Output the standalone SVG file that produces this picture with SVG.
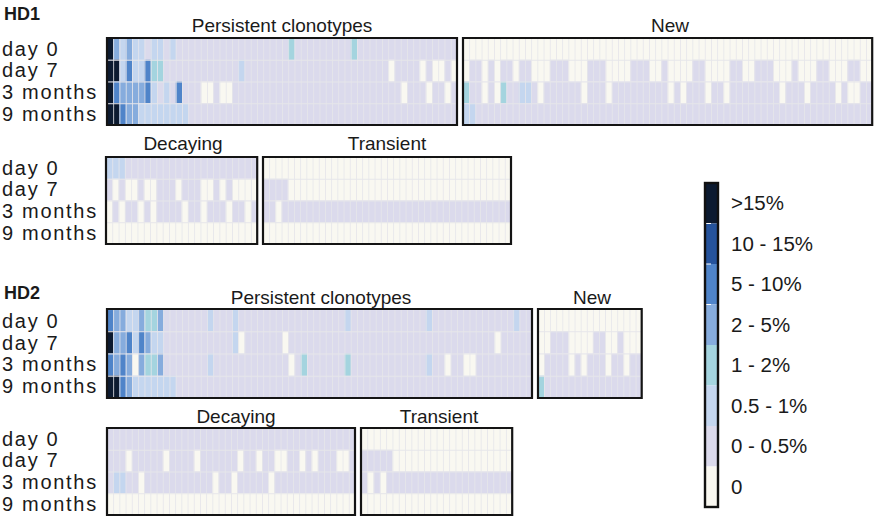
<svg xmlns="http://www.w3.org/2000/svg" width="874" height="516" viewBox="0 0 874 516">
<style>
.c0{fill:#f9f8f1}.c1{fill:#dbdaec}.c2{fill:#c4d6ef}.c3{fill:#a4d4df}.c4{fill:#86acdd}.c5{fill:#4f84c9}.c6{fill:#25539c}.c7{fill:#0c1a30}
.box{fill:none;stroke:#141414;stroke-width:2.2;vector-effect:non-scaling-stroke}
.gr{fill:url(#grid)}
text{font-family:"Liberation Sans",Arial,sans-serif;fill:#1a1a1a}
.ttl{font-size:19px;text-anchor:middle}
.lab{font-size:20px;letter-spacing:1.7px}
.hd{font-size:18px;font-weight:bold}
.leg{font-size:20.5px}
</style>
<defs>
<pattern id="grid" width="1" height="1" patternUnits="userSpaceOnUse">
<rect width="0.13" height="1" fill="#e6e6ea"/>
<rect width="1" height="0.045" fill="#e6e6ea"/>
</pattern>
</defs>
<rect width="874" height="516" fill="#ffffff"/>

<g id="labels-hd1">
<text class="hd" x="4" y="20">HD1</text>
<text class="ttl" x="282" y="32">Persistent clonotypes</text>
<text class="ttl" x="670" y="32">New</text>
<text class="lab" x="2" y="56">day 0</text>
<text class="lab" x="2" y="77">day 7</text>
<text class="lab" x="2" y="99">3 months</text>
<text class="lab" x="2" y="121">9 months</text>
<text class="ttl" x="183" y="150">Decaying</text>
<text class="ttl" x="387" y="150">Transient</text>
<text class="lab" x="2" y="175">day 0</text>
<text class="lab" x="2" y="196">day 7</text>
<text class="lab" x="2" y="218">3 months</text>
<text class="lab" x="2" y="240">9 months</text>
</g>

<g id="hd1-persistent" transform="translate(107 38) scale(6.25 21.75)">
<rect class="c1" width="56" height="4"/>
<rect class="c7" x="0" y="0" width="1" height="1"/><rect class="c4" x="1" y="0" width="1" height="1"/><rect class="c2" x="2" y="0" width="1" height="1"/><rect class="c4" x="3" y="0" width="1" height="1"/><rect class="c2" x="4" y="0" width="2" height="1"/><rect class="c2" x="7" y="0" width="2" height="1"/><rect class="c2" x="10" y="0" width="1" height="1"/><rect class="c3" x="29" y="0" width="1" height="1"/><rect class="c3" x="39" y="0" width="1" height="1"/>
<rect class="c7" x="0" y="1" width="2" height="1"/><rect class="c2" x="2" y="1" width="1" height="1"/><rect class="c5" x="3" y="1" width="1" height="1"/><rect class="c2" x="4" y="1" width="2" height="1"/><rect class="c5" x="6" y="1" width="1" height="1"/><rect class="c3" x="7" y="1" width="2" height="1"/><rect class="c2" x="21" y="1" width="1" height="1"/><rect class="c0" x="45" y="1" width="1" height="1"/><rect class="c0" x="50" y="1" width="1" height="1"/><rect class="c0" x="52" y="1" width="2" height="1"/><rect class="c0" x="55" y="1" width="1" height="1"/>
<rect class="c7" x="0" y="2" width="1" height="1"/><rect class="c5" x="1" y="2" width="1" height="1"/><rect class="c4" x="2" y="2" width="4" height="1"/><rect class="c5" x="6" y="2" width="1" height="1"/><rect class="c2" x="7" y="2" width="1" height="1"/><rect class="c2" x="9" y="2" width="1" height="1"/><rect class="c5" x="11" y="2" width="1" height="1"/><rect class="c0" x="15" y="2" width="2" height="1"/><rect class="c0" x="18" y="2" width="2" height="1"/><rect class="c0" x="47" y="2" width="1" height="1"/><rect class="c0" x="51" y="2" width="1" height="1"/><rect class="c0" x="54" y="2" width="1" height="1"/>
<rect class="c7" x="0" y="3" width="2" height="1"/><rect class="c5" x="2" y="3" width="1" height="1"/><rect class="c4" x="3" y="3" width="2" height="1"/><rect class="c2" x="5" y="3" width="8" height="1"/>
<rect class="gr" width="56" height="4"/>
<rect class="box" width="56" height="4"/>
</g>

<g id="hd1-new" transform="translate(463 38) scale(6.2 21.75)">
<rect class="c0" width="66" height="2"/>
<rect class="c1" x="0" y="2" width="66" height="2"/>
<rect class="c1" x="1" y="1" width="2" height="1"/><rect class="c1" x="4" y="1" width="1" height="1"/><rect class="c1" x="6" y="1" width="2" height="1"/><rect class="c1" x="9" y="1" width="2" height="1"/><rect class="c1" x="14" y="1" width="3" height="1"/><rect class="c1" x="20" y="1" width="3" height="1"/><rect class="c1" x="27" y="1" width="3" height="1"/><rect class="c1" x="32" y="1" width="1" height="1"/><rect class="c1" x="37" y="1" width="2" height="1"/><rect class="c1" x="43" y="1" width="2" height="1"/><rect class="c1" x="47" y="1" width="3" height="1"/><rect class="c1" x="53" y="1" width="1" height="1"/><rect class="c1" x="57" y="1" width="2" height="1"/><rect class="c1" x="62" y="1" width="2" height="1"/>
<rect class="c3" x="0" y="2" width="1" height="1"/><rect class="c0" x="3" y="2" width="1" height="1"/><rect class="c0" x="5" y="2" width="1" height="1"/><rect class="c3" x="6" y="2" width="1" height="1"/><rect class="c2" x="9" y="2" width="2" height="1"/><rect class="c0" x="12" y="2" width="1" height="1"/><rect class="c0" x="19" y="2" width="1" height="1"/><rect class="c0" x="23" y="2" width="1" height="1"/><rect class="c0" x="33" y="2" width="1" height="1"/><rect class="c0" x="35" y="2" width="1" height="1"/><rect class="c0" x="39" y="2" width="1" height="1"/><rect class="c0" x="42" y="2" width="1" height="1"/><rect class="c0" x="51" y="2" width="1" height="1"/><rect class="c0" x="55" y="2" width="1" height="1"/><rect class="c0" x="60" y="2" width="1" height="1"/><rect class="c0" x="62" y="2" width="2" height="1"/>
<rect class="c2" x="0" y="3" width="2" height="1"/>
<rect class="gr" width="66" height="4"/>
<rect class="box" width="66" height="4"/>
</g>

<g id="hd1-decaying" transform="translate(106 157) scale(6.3 21.75)">
<rect class="c1" width="24" height="3"/>
<rect class="c0" x="0" y="3" width="24" height="1"/>
<rect class="c2" x="0" y="0" width="3" height="1"/>
<rect class="c0" x="1" y="1" width="1" height="1"/><rect class="c0" x="3" y="1" width="2" height="1"/><rect class="c0" x="6" y="1" width="2" height="1"/><rect class="c0" x="11" y="1" width="1" height="1"/><rect class="c0" x="15" y="1" width="2" height="1"/><rect class="c0" x="18" y="1" width="1" height="1"/><rect class="c0" x="20" y="1" width="4" height="1"/>
<rect class="c0" x="0" y="2" width="1" height="1"/><rect class="c0" x="2" y="2" width="1" height="1"/><rect class="c0" x="5" y="2" width="1" height="1"/><rect class="c0" x="7" y="2" width="1" height="1"/><rect class="c0" x="12" y="2" width="1" height="1"/><rect class="c0" x="15" y="2" width="1" height="1"/><rect class="c0" x="19" y="2" width="1" height="1"/><rect class="c0" x="22" y="2" width="1" height="1"/>
<rect class="gr" width="24" height="4"/>
<rect class="box" width="24" height="4"/>
</g>

<g id="hd1-transient" transform="translate(263 157) scale(6.2 21.75)">
<rect class="c0" width="40" height="4"/>
<rect class="c1" x="0" y="1" width="4" height="1"/>
<rect class="c1" x="0" y="2" width="40" height="1"/>
<rect class="c0" x="2" y="2" width="1" height="1"/>
<rect class="gr" width="40" height="4"/>
<rect class="box" width="40" height="4"/>
</g>

<g id="labels-hd2">
<text class="hd" x="4" y="299">HD2</text>
<text class="ttl" x="321" y="304">Persistent clonotypes</text>
<text class="ttl" x="592" y="304">New</text>
<text class="lab" x="2" y="328">day 0</text>
<text class="lab" x="2" y="350">day 7</text>
<text class="lab" x="2" y="371">3 months</text>
<text class="lab" x="2" y="393">9 months</text>
<text class="ttl" x="236" y="423">Decaying</text>
<text class="ttl" x="439" y="423">Transient</text>
<text class="lab" x="2" y="446">day 0</text>
<text class="lab" x="2" y="467">day 7</text>
<text class="lab" x="2" y="489">3 months</text>
<text class="lab" x="2" y="511">9 months</text>
</g>

<g id="hd2-persistent" transform="translate(107 309) scale(6.25 22.25)">
<rect class="c1" width="68" height="4"/>
<rect class="c5" x="0" y="0" width="1" height="1"/><rect class="c4" x="1" y="0" width="2" height="1"/><rect class="c2" x="3" y="0" width="2" height="1"/><rect class="c4" x="5" y="0" width="1" height="1"/><rect class="c3" x="6" y="0" width="2" height="1"/><rect class="c4" x="8" y="0" width="1" height="1"/><rect class="c2" x="16" y="0" width="1" height="1"/><rect class="c2" x="20" y="0" width="1" height="1"/><rect class="c2" x="38" y="0" width="1" height="1"/><rect class="c2" x="51" y="0" width="1" height="1"/><rect class="c2" x="65" y="0" width="1" height="1"/>
<rect class="c7" x="0" y="1" width="1" height="1"/><rect class="c4" x="1" y="1" width="2" height="1"/><rect class="c5" x="3" y="1" width="1" height="1"/><rect class="c2" x="4" y="1" width="1" height="1"/><rect class="c5" x="5" y="1" width="1" height="1"/><rect class="c4" x="6" y="1" width="1" height="1"/><rect class="c2" x="7" y="1" width="2" height="1"/><rect class="c2" x="20" y="1" width="1" height="1"/><rect class="c0" x="21" y="1" width="1" height="1"/><rect class="c0" x="28" y="1" width="1" height="1"/><rect class="c0" x="62" y="1" width="1" height="1"/>
<rect class="c5" x="0" y="2" width="1" height="1"/><rect class="c4" x="1" y="2" width="1" height="1"/><rect class="c5" x="2" y="2" width="1" height="1"/><rect class="c4" x="3" y="2" width="1" height="1"/><rect class="c0" x="4" y="2" width="1" height="1"/><rect class="c4" x="5" y="2" width="1" height="1"/><rect class="c3" x="6" y="2" width="2" height="1"/><rect class="c4" x="8" y="2" width="1" height="1"/><rect class="c2" x="16" y="2" width="1" height="1"/><rect class="c0" x="29" y="2" width="1" height="1"/><rect class="c3" x="31" y="2" width="1" height="1"/><rect class="c3" x="38" y="2" width="1" height="1"/><rect class="c2" x="51" y="2" width="1" height="1"/><rect class="c0" x="54" y="2" width="1" height="1"/><rect class="c0" x="57" y="2" width="2" height="1"/>
<rect class="c7" x="0" y="3" width="2" height="1"/><rect class="c5" x="2" y="3" width="1" height="1"/><rect class="c4" x="3" y="3" width="1" height="1"/><rect class="c2" x="4" y="3" width="7" height="1"/>
<rect class="gr" width="68" height="4"/>
<rect class="box" width="68" height="4"/>
</g>

<g id="hd2-new" transform="translate(538 309) scale(6.1 22.25)">
<rect class="c0" width="17" height="2"/>
<rect class="c1" x="0" y="2" width="17" height="2"/>
<rect class="c1" x="2" y="1" width="3" height="1"/><rect class="c1" x="9" y="1" width="2" height="1"/><rect class="c1" x="13" y="1" width="1" height="1"/>
<rect class="c0" x="0" y="2" width="1" height="1"/><rect class="c0" x="5" y="2" width="1" height="1"/><rect class="c0" x="7" y="2" width="1" height="1"/><rect class="c0" x="11" y="2" width="1" height="1"/><rect class="c0" x="14" y="2" width="1" height="1"/>
<rect class="c3" x="0" y="3" width="1" height="1"/>
<rect class="gr" width="17" height="4"/>
<rect class="box" width="17" height="4"/>
</g>

<g id="hd2-decaying" transform="translate(107 428) scale(6.2 21.75)">
<rect class="c1" width="40" height="3"/>
<rect class="c0" x="0" y="3" width="40" height="1"/>
<rect class="c0" x="3" y="1" width="1" height="1"/><rect class="c0" x="9" y="1" width="1" height="1"/><rect class="c0" x="14" y="1" width="1" height="1"/><rect class="c0" x="21" y="1" width="1" height="1"/><rect class="c0" x="24" y="1" width="1" height="1"/><rect class="c0" x="27" y="1" width="2" height="1"/><rect class="c0" x="31" y="1" width="1" height="1"/><rect class="c0" x="33" y="1" width="1" height="1"/><rect class="c0" x="37" y="1" width="2" height="1"/>
<rect class="c2" x="1" y="2" width="2" height="1"/><rect class="c0" x="5" y="2" width="1" height="1"/><rect class="c0" x="17" y="2" width="1" height="1"/><rect class="c0" x="20" y="2" width="1" height="1"/><rect class="c0" x="26" y="2" width="1" height="1"/>
<rect class="gr" width="40" height="4"/>
<rect class="box" width="40" height="4"/>
</g>

<g id="hd2-transient" transform="translate(361 428) scale(6.3 21.75)">
<rect class="c0" width="24" height="4"/>
<rect class="c1" x="0" y="1" width="5" height="1"/>
<rect class="c1" x="0" y="2" width="24" height="1"/>
<rect class="c0" x="1" y="2" width="1" height="1"/><rect class="c0" x="3" y="2" width="1" height="1"/>
<rect class="gr" width="24" height="4"/>
<rect class="box" width="24" height="4"/>
</g>

<g id="legend">
<rect class="c7" x="705" y="183" width="13" height="40.5"/>
<rect class="c6" x="705" y="223.5" width="13" height="40.5"/>
<rect class="c5" x="705" y="264" width="13" height="40.5"/>
<rect class="c4" x="705" y="304.5" width="13" height="40.5"/>
<rect class="c3" x="705" y="345" width="13" height="40.5"/>
<rect class="c2" x="705" y="385.5" width="13" height="40.5"/>
<rect class="c1" x="705" y="426" width="13" height="40.5"/>
<rect class="c0" x="705" y="466.5" width="13" height="40.5"/>
<path d="M706 223.5h5M706 264h5M706 304.5h5" stroke="#ffffff" stroke-width="1"/>
<rect x="705" y="183" width="13" height="324" fill="none" stroke="#111" stroke-width="2.4"/>
<text class="leg" x="731" y="210">&gt;15%</text>
<text class="leg" x="731" y="251">10 - 15%</text>
<text class="leg" x="731" y="291">5 - 10%</text>
<text class="leg" x="731" y="332">2 - 5%</text>
<text class="leg" x="731" y="372">1 - 2%</text>
<text class="leg" x="731" y="413">0.5 - 1%</text>
<text class="leg" x="731" y="453">0 - 0.5%</text>
<text class="leg" x="731" y="494">0</text>
</g>
</svg>
